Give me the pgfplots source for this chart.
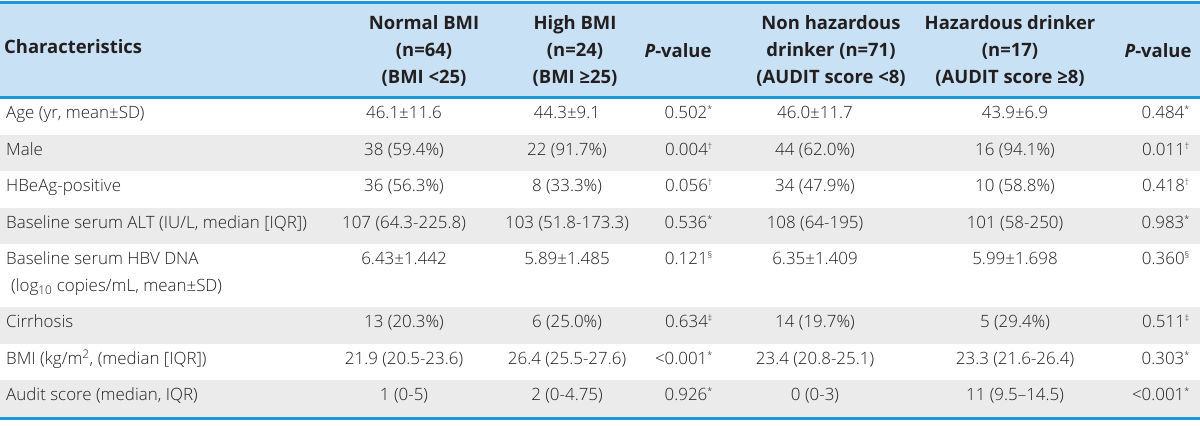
\documentclass[border=0pt]{standalone}
\usepackage{pgfplots}
\pgfplotsset{compat=1.18}
\usepackage{fontspec}
\setmainfont{Open Sans}
\IfFontExistsTF{Open Sans Light}{\newfontfamily\bodyfont{Open Sans Light}}{\newfontfamily\bodyfont{Open Sans}}
\definecolor{hdrbg}{RGB}{200,225,244}
\definecolor{rulec}{RGB}{28,152,214}
\definecolor{rowgray}{RGB}{235,235,235}
\definecolor{txt}{RGB}{35,31,32}
\tikzset{
  body/.style={text=txt, font=\bodyfont\fontsize{17}{27}\selectfont, inner sep=0pt},
  head/.style={text=txt, font=\fontsize{18.5}{27}\selectfont\bfseries, inner sep=0pt, align=center},
}
\newcommand\sym[1]{\textsuperscript{\fontsize{9}{9}\selectfont #1}}
\newcommand\trow[8]{%
  \node[body, anchor=mid west] at (axis cs:6,#1) {#2};
  \node[body, anchor=mid] at (axis cs:404,#1) {#3};
  \node[body, anchor=mid] at (axis cs:567,#1) {#4};
  \node[body, anchor=mid east] at (axis cs:713,#1) {#5};
  \node[body, anchor=mid] at (axis cs:815,#1) {#6};
  \node[body, anchor=mid] at (axis cs:1015,#1) {#7};
  \node[body, anchor=mid east] at (axis cs:1190,#1) {#8};
}
\begin{document}
\begin{tikzpicture}
\begin{axis}[
  width=1200bp, height=425bp, scale only axis,
  xmin=0, xmax=1200, ymin=0, ymax=425, y dir=reverse,
  hide axis, clip=false,
]
\path (axis cs:0,0) rectangle (axis cs:1200,425);
% backgrounds
\fill[hdrbg] (axis cs:0,3) rectangle (axis cs:1200,97);
\fill[rowgray] (axis cs:0,134.5) rectangle (axis cs:1200,171);
\fill[rowgray] (axis cs:0,207.5) rectangle (axis cs:1200,244);
\fill[rowgray] (axis cs:0,307) rectangle (axis cs:1200,343.5);
\fill[rowgray] (axis cs:0,380) rectangle (axis cs:1200,416.5);
% rules
\fill[rulec] (axis cs:0,1) rectangle (axis cs:1200,4);
\fill[rulec] (axis cs:0,95.5) rectangle (axis cs:1200,98.5);
\fill[rulec] (axis cs:0,416.5) rectangle (axis cs:1200,419.5);
% header
\node[head, anchor=mid west] at (axis cs:4,51) {Characteristics};
\node[head] at (axis cs:424,51) {Normal BMI\\(n=64)\\(BMI <25)};
\node[head] at (axis cs:575,51) {High BMI\\(n=24)\\(BMI ≥25)};
\node[head] at (axis cs:678,51) {\textit{P}-value};
\node[head] at (axis cs:831,51) {Non hazardous\\drinker (n=71)\\(AUDIT score <8)};
\node[head] at (axis cs:1010,51) {Hazardous drinker\\(n=17)\\(AUDIT score ≥8)};
\node[head] at (axis cs:1158,51) {\textit{P}-value};
% body
\trow{116}{Age (yr, mean±SD)}{46.1±11.6}{44.3±9.1}{0.502\sym{*}}{46.0±11.7}{43.9±6.9}{0.484\sym{*}}
\trow{153}{Male}{38 (59.4\%)}{22 (91.7\%)}{0.004\sym{†}}{44 (62.0\%)}{16 (94.1\%)}{0.011\sym{†}}
\trow{189}{HBeAg-positive}{36 (56.3\%)}{8 (33.3\%)}{0.056\sym{†}}{34 (47.9\%)}{10 (58.8\%)}{0.418\sym{†}}
\trow{226}{Baseline serum ALT (IU/L, median [IQR])}{107 (64.3-225.8)}{103 (51.8-173.3)}{0.536\sym{*}}{108 (64-195)}{101 (58-250)}{0.983\sym{*}}
\trow{262}{Baseline serum HBV DNA}{6.43±1.442}{5.89±1.485}{0.121\sym{§}}{6.35±1.409}{5.99±1.698}{0.360\sym{§}}
\node[body, anchor=mid west] at (axis cs:11,289) {(log\textsubscript{10} copies/mL, mean±SD)};
\trow{325}{Cirrhosis}{13 (20.3\%)}{6 (25.0\%)}{0.634\sym{‡}}{14 (19.7\%)}{5 (29.4\%)}{0.511\sym{‡}}
\trow{362}{BMI (kg/m\textsuperscript{2}, (median [IQR])}{21.9 (20.5-23.6)}{26.4 (25.5-27.6)}{<0.001\sym{*}}{23.4 (20.8-25.1)}{23.3 (21.6-26.4)}{0.303\sym{*}}
\trow{398}{Audit score (median, IQR)}{1 (0-5)}{2 (0-4.75)}{0.926\sym{*}}{0 (0-3)}{11 (9.5–14.5)}{<0.001\sym{*}}
\end{axis}
\end{tikzpicture}
\end{document}
